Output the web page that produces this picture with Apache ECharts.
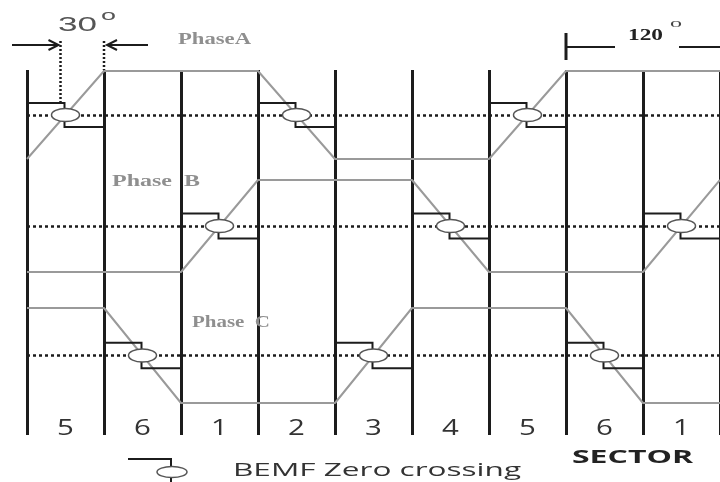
<!DOCTYPE html>
<html><head><meta charset="utf-8">
<script src="https://cdn.jsdelivr.net/npm/echarts@6/dist/echarts.min.js"></script>
<style>html,body{margin:0;padding:0;background:#fff}#c{width:720px;height:482px}</style>
</head><body><div id="c"></div>
<script>
// ---- data ----
const sectorLabels = ['5','6','1','2','3','4','5','6','1'];
const sectorEdges = [0,60,120,180,240,300,360,420,480,540];   // electrical degrees
const phaseA = [-1, 1, 1, 1,-1,-1,-1, 1, 1, 1];
const phaseB = [-1,-1,-1, 1, 1, 1,-1,-1,-1, 1];
const phaseC = [ 1, 1,-1,-1,-1, 1, 1, 1,-1,-1];
const crossA = [30, 210, 390];
const crossB = [150, 330, 510];
const crossC = [90, 270, 450];
const STEP = 0.27;   // BEMF step level around zero

const SANS = '"Open Sans", "Liberation Sans", sans-serif';
const SERIF = '"Liberation Serif", "DejaVu Serif", serif';
const BLACK = '#1c1c1c', GRAY = '#9a9a9a';

const chart = echarts.init(document.getElementById('c'));
const half = (sectorEdges[1] - sectorEdges[0]) / 2;

function lineSeries(vals, gi, name) {
  return {
    name, type: 'line', xAxisIndex: gi, yAxisIndex: gi, silent: true,
    data: sectorEdges.map((x, i) => [x, vals[i]]),
    symbol: 'none', lineStyle: { color: GRAY, width: 2 }, z: 3,
    markLine: {
      silent: true, symbol: ['none', 'none'], label: { show: false },
      lineStyle: { color: BLACK, width: 2.5, type: [3, 3] },
      data: [{ yAxis: 0 }], z: 2
    }
  };
}
function crossSeries(xs, gi) {
  return {
    type: 'custom', xAxisIndex: gi, yAxisIndex: gi, silent: true, z: 5,
    data: xs.map(x => [x, 0]),
    renderItem(params, api) {
      const x = api.value(0);
      const c = api.coord([x, 0]);
      const l = api.coord([x - half, 0])[0];
      const r = api.coord([x + half, 0])[0];
      const up = api.coord([x, STEP])[1];
      const lo = api.coord([x, -STEP])[1];
      const rx = 14, ry = 6.5, vx = c[0] - 1;
      return { type: 'group', children: [
        { type: 'polyline', shape: { points: [[l, up], [vx, up], [vx, c[1] - ry]] }, style: { stroke: BLACK, lineWidth: 2, fill: null } },
        { type: 'polyline', shape: { points: [[vx, c[1] + ry], [vx, lo], [r, lo]] }, style: { stroke: BLACK, lineWidth: 2, fill: null } },
        { type: 'ellipse', shape: { cx: c[0], cy: c[1], rx, ry }, style: { fill: '#fff', stroke: '#555', lineWidth: 1.5 } }
      ]};
    }
  };
}

const option = {
  animation: false,
  grid: [
    { left: 27, right: 0, top: 70, bottom: 47 },
    { left: 27, right: 0, top: 71, height: 88 },
    { left: 27, right: 0, top: 180, height: 92 },
    { left: 27, right: 0, top: 308, height: 95 }
  ],
  xAxis: [0, 1, 2, 3].map(i => ({
    type: 'value', gridIndex: i, min: 0, max: 540, interval: 60,
    axisLine: { show: false }, axisTick: { show: false }, axisLabel: { show: false },
    splitLine: { show: i === 0, lineStyle: { color: BLACK, width: 3 } }
  })),
  yAxis: [0, 1, 2, 3].map(i => ({
    type: 'value', gridIndex: i, min: i === 0 ? 0 : -1, max: 1, show: false
  })),
  series: [
    lineSeries(phaseA, 1, 'Phase A'),
    lineSeries(phaseB, 2, 'Phase B'),
    lineSeries(phaseC, 3, 'Phase C'),
    crossSeries(crossA, 1),
    crossSeries(crossB, 2),
    crossSeries(crossC, 3),
    {
      type: 'custom', xAxisIndex: 0, yAxisIndex: 0, silent: true, z: 6,
      data: sectorLabels.map((_, i) => [(sectorEdges[i] + sectorEdges[i + 1]) / 2, 0]),
      renderItem(params, api) {
        const p = api.coord([api.value(0), 0]);
        return { type: 'text', x: p[0], y: p[1] + 5, scaleX: 1.4,
          style: { text: sectorLabels[params.dataIndex], font: '21px ' + SANS, fill: '#333', align: 'center', verticalAlign: 'bottom' } };
      }
    }
  ]
};
chart.setOption(option);

// ---- annotations ----
const ctx = document.createElement('canvas').getContext('2d');
function tw(t, f) { ctx.font = f; return ctx.measureText(t).width; }
function txt(t, left, right, cy, font, fill) {
  return { type: 'text', x: left, y: cy, scaleX: (right - left) / tw(t, font), z: 20,
    style: { text: t, font, fill, align: 'left', verticalAlign: 'middle' } };
}
function seg(pts, opt) {
  return Object.assign({ type: 'polyline', z: 20, shape: { points: pts },
    style: { stroke: BLACK, lineWidth: 2, fill: null } }, opt || {});
}
const xAt = v => chart.convertToPixel({ xAxisIndex: 0 }, v);
const d1 = xAt(crossA[0]) - 5, d2 = xAt(sectorEdges[1]);
const b0 = xAt(sectorEdges[7]), bEnd = xAt(sectorEdges[9]);
const dotted = { style: { stroke: BLACK, lineWidth: 2.5, fill: null, lineDash: [2, 2] } };
const PH = 'bold 17px ' + SERIF, PHC = '#8f8f8f';

chart.setOption({ graphic: [
  txt('30', 58, 97, 25, '20px "Liberation Sans", sans-serif', '#555'),
  txt('o', 101, 116, 16, '15px "Liberation Sans", sans-serif', '#555'),
  seg([[12, 45], [d1 - 2, 45]]),
  seg([[d1 - 12, 40], [d1 - 2, 45], [d1 - 12, 50]]),
  seg([[148, 45], [d2 + 3, 45]]),
  seg([[d2 + 13, 40], [d2 + 3, 45], [d2 + 13, 50]]),
  seg([[d1, 41], [d1, 104]], dotted),
  seg([[d2, 41], [d2, 70]], dotted),
  txt('PhaseA', 178, 251, 40, PH, PHC),
  txt('Phase  B', 112, 200, 182, PH, PHC),
  txt('Phase  C', 192, 270, 323, PH, PHC),
  seg([[b0, 33], [b0, 60]], { style: { stroke: BLACK, lineWidth: 3, fill: null } }),
  seg([[b0, 47], [615, 47]]),
  seg([[679, 47], [bEnd, 47]]),
  txt('120', 628, 663, 36, 'bold 16px ' + SERIF, '#222'),
  txt('o', 670, 682, 24, '12px ' + SERIF, '#444'),
  seg([[128, 459], [171, 459], [171, 466]]),
  seg([[171, 477.5], [171, 482]]),
  { type: 'ellipse', z: 20, shape: { cx: 172, cy: 472, rx: 15, ry: 5.5 }, style: { fill: '#fff', stroke: '#555', lineWidth: 1.5 } },
  txt('BEMF Zero crossing', 233, 521, 471, '19px ' + SANS, '#333'),
  txt('SECTOR', 572, 693, 458, 'bold 18px ' + SANS, '#222')
]});
</script></body></html>
